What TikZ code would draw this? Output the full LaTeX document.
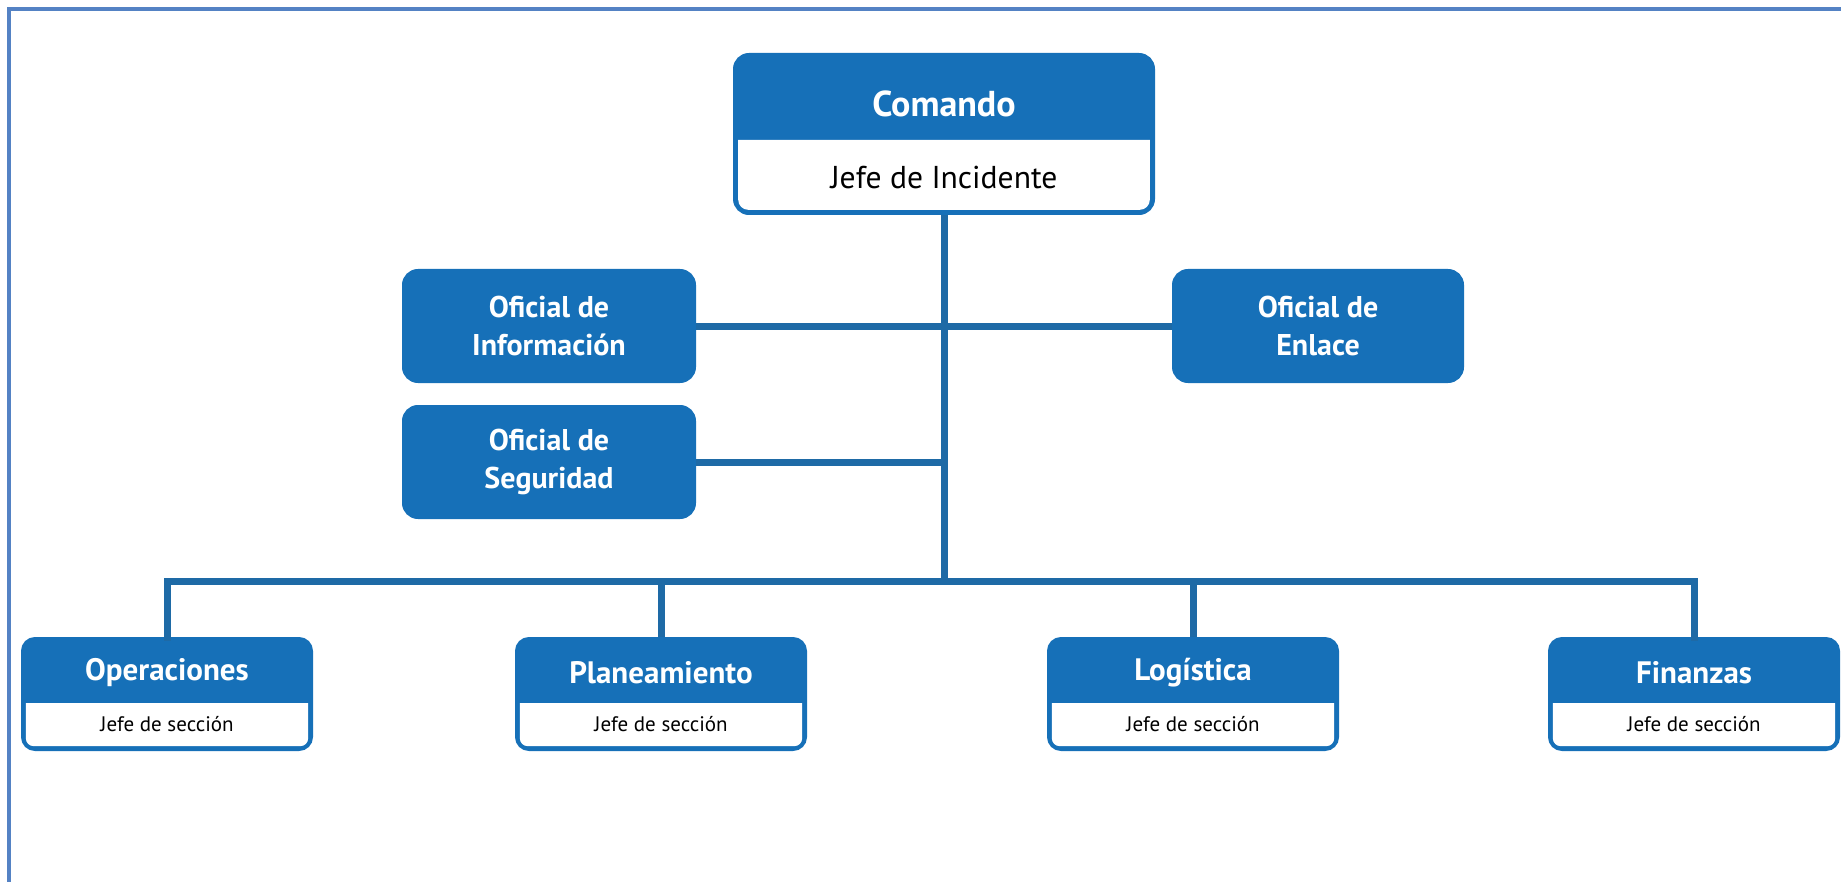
\documentclass[tikz,border=0pt]{standalone}
\usepackage{fontspec}
\setmainfont{PT Sans}
\definecolor{boxblue}{RGB}{22,112,184}
\definecolor{lineblue}{RGB}{30,106,166}
\definecolor{framecol}{RGB}{84,130,196}
\begin{document}
\begin{tikzpicture}[x=0.5pt,y=-0.5pt,
  bluebox/.style={rectangle, rounded corners=7pt, fill=boxblue, draw=boxblue, line width=2pt, inner sep=0pt, text=white, font=\bfseries\fontsize{15}{19}\selectfont, align=center},
  conn/.style={draw=lineblue, line width=3.5pt},
  ttl/.style={text=white, font=\bfseries\fontsize{15.5}{18}\selectfont, inner sep=0pt},
  subbig/.style={text=black, font=\fontsize{15.8}{18}\selectfont, inner sep=0pt},
  subsmall/.style={text=black, font=\fontsize{10.5}{12}\selectfont, inner sep=0pt},
]
\useasboundingbox (0,0) rectangle (1841,882);
% frame
\draw[framecol, line width=1.6pt] (9,882) -- (9,9) -- (1841,9);

\coordinate (bl) at (168,581);
\coordinate (br) at (1694,581);
\coordinate (tr) at (944,581);
\coordinate (js) at (944,462);

% Comando box
\node[bluebox, minimum width=209pt, minimum height=79pt] (cmd) at (944,134) {};
\coordinate (cmddiv) at (944,140);
\fill[white] ([xshift=2.6pt]cmd.west |- cmddiv) -- ([xshift=-2.6pt]cmd.east |- cmddiv)
  {[rounded corners=5pt] -- ([xshift=-2.6pt,yshift=2.6pt]cmd.south east) -- ([xshift=2.6pt,yshift=2.6pt]cmd.south west)} -- cycle;
\node[ttl, font=\bfseries\fontsize{18}{20}\selectfont] (cmdt) at (944,104) {Comando};
\node[subbig] (cmds) at (944,178) {Jefe de Incidente};

% staff boxes
\node[bluebox, minimum width=145pt, minimum height=55pt] (info) at (549,326) {Oficial de\\Información};
\node[bluebox, minimum width=145pt, minimum height=55pt] (seg) at (549,462) {Oficial de\\Seguridad};
\node[bluebox, minimum width=144pt, minimum height=55pt] (enl) at (1318,326) {Oficial de\\Enlace};

% section boxes
\foreach \n/\xx/\t in {ope/167/Operaciones, pla/661/Planeamiento, log/1193/Logística, fin/1694/Finanzas}{
  \node[bluebox, rounded corners=6pt, minimum width=144pt, minimum height=55pt] (\n) at (\xx,694) {};
  \coordinate (\n div) at (\xx,703);
  \fill[white] ([xshift=2.4pt]\n.west |- \n div) -- ([xshift=-2.4pt]\n.east |- \n div)
    {[rounded corners=4pt] -- ([xshift=-2.4pt,yshift=2.4pt]\n.south east) -- ([xshift=2.4pt,yshift=2.4pt]\n.south west)} -- cycle;
  \node[ttl] (\n t) at (\xx,673) {\t};
  \node[subsmall] (\n s) at (\xx,724) {Jefe de sección};
}

% connectors
\draw[conn] (cmd.south) -- (tr);
\draw[conn] (info.east) -- (enl.west);
\draw[conn] (seg.east) -- (js);
\draw[conn, line cap=rect] (ope.north) -- (ope.north |- bl) -- (fin.north |- br) -- (fin.north);
\draw[conn] (pla.north) -- (pla.north |- bl);
\draw[conn] (log.north) -- (log.north |- bl);
\end{tikzpicture}
\end{document}
